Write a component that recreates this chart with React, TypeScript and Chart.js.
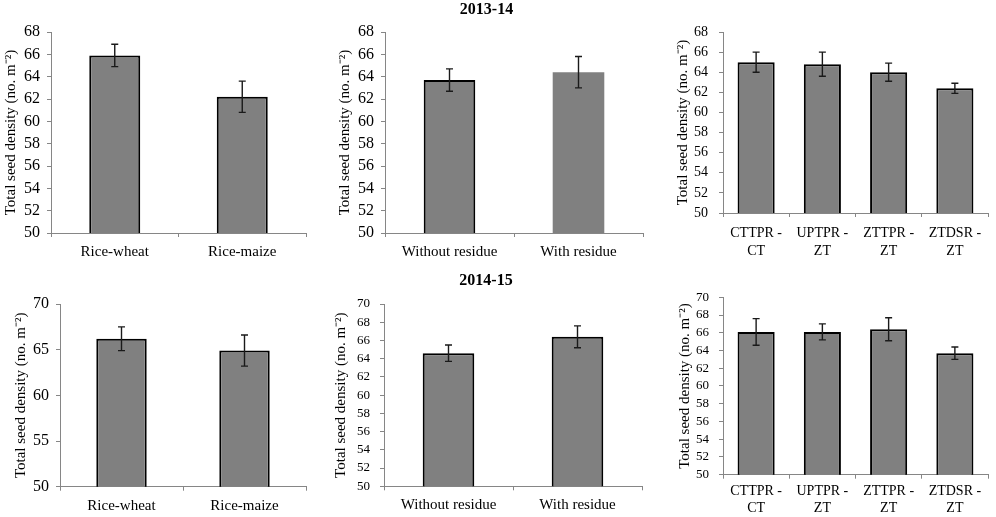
import React, { useEffect, useRef } from "react";
import { Chart, registerables } from "chart.js";

Chart.register(...registerables);

// ---------- data ----------
const cropLabels = ["Rice-wheat", "Rice-maize"];
const residueLabels = ["Without residue", "With residue"];
const tillageLabels = [
  ["CTTPR -", "CT"],
  ["UPTPR -", "ZT"],
  ["ZTTPR -", "ZT"],
  ["ZTDSR -", "ZT"],
];

const crop2013 = [65.9, 62.2];
const crop2013Err = [1.0, 1.4];
const residue2013 = [63.7, 64.4];
const residue2013Err = [1.0, 1.4];
const tillage2013 = [65.0, 64.8, 64.0, 62.4];
const tillage2013Err = [1.0, 1.2, 0.9, 0.5];

const crop2014 = [66.2, 64.9];
const crop2014Err = [1.3, 1.7];
const residue2014 = [64.6, 66.4];
const residue2014Err = [0.9, 1.2];
const tillage2014 = [66.1, 66.1, 66.4, 63.7];
const tillage2014Err = [1.5, 0.9, 1.3, 0.7];

const yTitle = "Total seed density (no. m\u207B\u00B2)";
const FONT = "'Liberation Serif', 'Times New Roman', serif";
const AXIS = "#868686";

type PanelCfg = {
  left: number;
  top: number;
  width: number;
  height: number;
  plotLeft: number;
  plotTop: number;
  plotRight: number;
  plotBottom: number;
  labels: any[];
  values: number[];
  errors: number[];
  yMin: number;
  yMax: number;
  step: number;
  borderWidths: number[];
  barPct: number;
  tickFont: number;
  xFont: number;
  xLH: number;
  tickGap: number;
  titleX: number;
  xPad: number;
  title?: string;
  titleY?: number;
};

function Panel({ cfg }: { cfg: PanelCfg }) {
  const ref = useRef<HTMLCanvasElement | null>(null);
  useEffect(() => {
    if (!ref.current) return;
    const c = cfg;
    const titleFontSize = 16;
    const titleLH = titleFontSize * 1.2;
    let padTop = c.plotTop;
    let titleOpts: any = { display: false };
    if (c.title) {
      padTop = 0;
      const pt = Math.max(0, (c.titleY || 0) - titleLH / 2);
      titleOpts = {
        display: true,
        text: c.title,
        color: "#000",
        font: { family: FONT, size: titleFontSize, weight: "bold", lineHeight: 1.2 },
        padding: { top: pt, bottom: c.plotTop - pt - titleLH },
      };
    }
    const errorPlugin = {
      id: "errbars",
      afterDatasetsDraw(chart: any) {
        const meta = chart.getDatasetMeta(0);
        const ys = chart.scales.y;
        const ctx = chart.ctx;
        ctx.save();
        ctx.strokeStyle = "#1a1a1a";
        ctx.lineWidth = 1.4;
        c.values.forEach((v, i) => {
          const bar = meta.data[i];
          if (!bar) return;
          const x = bar.x;
          const yT = ys.getPixelForValue(v + c.errors[i]);
          const yB = ys.getPixelForValue(v - c.errors[i]);
          ctx.beginPath();
          ctx.moveTo(x, yT);
          ctx.lineTo(x, yB);
          ctx.moveTo(x - 3.5, yT);
          ctx.lineTo(x + 3.5, yT);
          ctx.moveTo(x - 3.5, yB);
          ctx.lineTo(x + 3.5, yB);
          ctx.stroke();
        });
        ctx.restore();
      },
    };
    const chart = new Chart(ref.current, {
      type: "bar",
      data: {
        labels: c.labels,
        datasets: [
          {
            data: c.values,
            backgroundColor: "#808080",
            borderColor: "#000",
            borderWidth: c.borderWidths,
            borderSkipped: "start",
            categoryPercentage: 1,
            barPercentage: c.barPct,
          },
        ],
      },
      options: {
        animation: false,
        responsive: false,
        devicePixelRatio: 1,
        layout: {
          padding: { left: 0, top: padTop, right: c.width - c.plotRight, bottom: 0 },
        },
        plugins: {
          legend: { display: false },
          tooltip: { enabled: false },
          title: titleOpts,
        },
        scales: {
          x: {
            grid: {
              display: true,
              drawOnChartArea: false,
              drawTicks: true,
              tickLength: 4,
              color: AXIS,
              offset: true,
            },
            border: { display: true, color: AXIS, width: 1 },
            ticks: {
              color: "#000",
              font: { family: FONT, size: c.xFont, lineHeight: c.xLH },
              padding: c.xPad,
              maxRotation: 0,
              autoSkip: false,
            },
            afterFit(s: any) {
              s.height = c.height - c.plotBottom;
              s.paddingLeft = 0;
              s.paddingRight = 0;
            },
          },
          y: {
            min: c.yMin,
            max: c.yMax,
            grid: {
              display: true,
              drawOnChartArea: false,
              drawTicks: true,
              tickLength: 4,
              color: AXIS,
            },
            border: { display: true, color: AXIS, width: 1 },
            ticks: {
              stepSize: c.step,
              autoSkip: false,
              color: "#000",
              font: { family: FONT, size: c.tickFont },
              padding: c.tickGap - 4,
            },
            title: {
              display: true,
              text: yTitle,
              color: "#000",
              font: { family: FONT, size: 15, lineHeight: 1.2 },
              padding: { top: c.titleX - 9, bottom: 0 },
            },
            afterFit(s: any) {
              s.width = c.plotLeft;
              s.paddingTop = 0;
              s.paddingBottom = 0;
            },
          },
        },
      },
      plugins: [errorPlugin],
    } as any);
    return () => chart.destroy();
  }, [cfg]);
  return (
    <canvas
      ref={ref}
      width={cfg.width}
      height={cfg.height}
      style={{
        position: "absolute",
        left: cfg.left,
        top: cfg.top,
        width: cfg.width,
        height: cfg.height,
      }}
    />
  );
}

const panels: PanelCfg[] = [
  {
    left: 0, top: 0, width: 330, height: 258,
    plotLeft: 51, plotTop: 32, plotRight: 306, plotBottom: 233,
    labels: cropLabels, values: crop2013, errors: crop2013Err,
    yMin: 50, yMax: 68, step: 2, borderWidths: [2, 2], barPct: 0.4,
    tickFont: 16, xFont: 15, xLH: 1.2, tickGap: 11, titleX: 11, xPad: 6,
  },
  {
    left: 330, top: 0, width: 330, height: 258,
    plotLeft: 55, plotTop: 32, plotRight: 313, plotBottom: 233,
    labels: residueLabels, values: residue2013, errors: residue2013Err,
    yMin: 50, yMax: 68, step: 2, borderWidths: [2, 0], barPct: 0.4,
    tickFont: 16, xFont: 15, xLH: 1.2, tickGap: 11, titleX: 15.5, xPad: 6,
    title: "2013-14", titleY: 10,
  },
  {
    left: 660, top: 0, width: 336, height: 258,
    plotLeft: 63, plotTop: 32, plotRight: 328, plotBottom: 213,
    labels: tillageLabels, values: tillage2013, errors: tillage2013Err,
    yMin: 50, yMax: 68, step: 2, borderWidths: [2, 2, 2, 2], barPct: 0.56,
    tickFont: 14, xFont: 14, xLH: 1.25, tickGap: 15, titleX: 23.5, xPad: 8,
  },
  {
    left: 0, top: 258, width: 330, height: 259,
    plotLeft: 60, plotTop: 46, plotRight: 306, plotBottom: 228.7,
    labels: cropLabels, values: crop2014, errors: crop2014Err,
    yMin: 50, yMax: 70, step: 5, borderWidths: [2, 2], barPct: 0.41,
    tickFont: 16, xFont: 15, xLH: 1.2, tickGap: 11, titleX: 21.5, xPad: 6,
  },
  {
    left: 330, top: 258, width: 330, height: 259,
    plotLeft: 54, plotTop: 46, plotRight: 312, plotBottom: 228.3,
    labels: residueLabels, values: residue2014, errors: residue2014Err,
    yMin: 50, yMax: 70, step: 2, borderWidths: [2, 2], barPct: 0.4,
    tickFont: 13, xFont: 15, xLH: 1.2, tickGap: 14, titleX: 11.5, xPad: 6,
    title: "2014-15", titleY: 23.3,
  },
  {
    left: 660, top: 258, width: 336, height: 259,
    plotLeft: 63, plotTop: 39.3, plotRight: 328, plotBottom: 216.7,
    labels: tillageLabels, values: tillage2014, errors: tillage2014Err,
    yMin: 50, yMax: 70, step: 2, borderWidths: [2, 2, 2, 2], barPct: 0.56,
    tickFont: 13, xFont: 14, xLH: 1.15, tickGap: 14, titleX: 25, xPad: 5,
  },
];

export default function App() {
  return (
    <div
      style={{
        position: "absolute",
        left: 0,
        top: 0,
        width: 996,
        height: 517,
        background: "#fff",
        overflow: "hidden",
      }}
    >
      {panels.map((p, i) => (
        <Panel key={i} cfg={p} />
      ))}
    </div>
  );
}
